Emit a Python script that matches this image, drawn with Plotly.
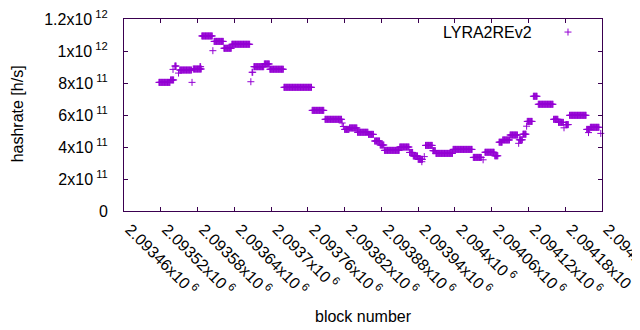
import plotly.graph_objects as go

# Runs of constant hashrate: first block, last block (inclusive), hashrate in h/s
run_start = [2093517, 2093536, 2093540, 2093543, 2093549, 2093551, 2093571, 2093573, 2093584, 2093587,
             2093605, 2093607, 2093623, 2093636, 2093667, 2093669, 2093672, 2093689, 2093698, 2093721,
             2093767, 2093788, 2093816, 2093818, 2093820, 2093828, 2093841, 2093859, 2093869, 2093878,
             2093885, 2093910, 2093926, 2093932, 2093940, 2093946, 2093950, 2093952, 2093964, 2093969,
             2093997, 2094030, 2094046, 2094049, 2094065, 2094072, 2094078, 2094090, 2094104, 2094105,
             2094111, 2094117, 2094118, 2094128, 2094136, 2094161, 2094169, 2094178, 2094181, 2094187,
             2094215, 2094218, 2094221, 2094238]
run_end = [2093535, 2093541, 2093540, 2093545, 2093549, 2093570, 2093571, 2093586, 2093585, 2093604,
           2093605, 2093622, 2093635, 2093665, 2093667, 2093670, 2093688, 2093697, 2093720, 2093766,
           2093786, 2093815, 2093816, 2093818, 2093827, 2093840, 2093858, 2093867, 2093877, 2093884,
           2093909, 2093925, 2093931, 2093939, 2093947, 2093946, 2093950, 2093963, 2093968, 2093996,
           2094028, 2094043, 2094046, 2094064, 2094070, 2094077, 2094089, 2094102, 2094104, 2094110,
           2094116, 2094117, 2094126, 2094134, 2094160, 2094168, 2094177, 2094178, 2094185, 2094214,
           2094220, 2094218, 2094235, 2094238]
run_hashrate = [0.804e12, 0.819e12, 0.885e12, 0.906e12, 0.862e12, 0.881e12, 0.804e12, 0.8875e12, 0.902e12, 1.094e12,
                1.002e12, 1.060e12, 1.017e12, 1.042e12, 0.808e12, 0.867e12, 0.902e12, 0.919e12, 0.886e12, 0.773e12,
                0.629e12, 0.573e12, 0.550e12, 0.528e12, 0.510e12, 0.519e12, 0.492e12, 0.479e12, 0.4375e12, 0.4125e12,
                0.379e12, 0.400e12, 0.366e12, 0.344e12, 0.323e12, 0.308e12, 0.340e12, 0.410e12, 0.377e12, 0.360e12,
                0.385e12, 0.335e12, 0.320e12, 0.367e12, 0.345e12, 0.430e12, 0.444e12, 0.475e12, 0.423e12, 0.445e12,
                0.480e12, 0.530e12, 0.560e12, 0.717e12, 0.667e12, 0.573e12, 0.554e12, 0.520e12, 0.540e12, 0.598e12,
                0.510e12, 0.490e12, 0.523e12, 0.485e12]

x_range = [2093460, 2094240]
y_range = [0, 1.2e12]
x_tick_vals = [2093460, 2093520, 2093580, 2093640, 2093700, 2093760, 2093820,
               2093880, 2093940, 2094000, 2094060, 2094120, 2094180, 2094240]
x_tick_text = ["2.09346x10<sup> 6</sup>", "2.09352x10<sup> 6</sup>", "2.09358x10<sup> 6</sup>",
               "2.09364x10<sup> 6</sup>", "2.0937x10<sup> 6</sup>", "2.09376x10<sup> 6</sup>",
               "2.09382x10<sup> 6</sup>", "2.09388x10<sup> 6</sup>", "2.09394x10<sup> 6</sup>",
               "2.094x10<sup> 6</sup>", "2.09406x10<sup> 6</sup>", "2.09412x10<sup> 6</sup>",
               "2.09418x10<sup> 6</sup>", "2.09424x10<sup> 6</sup>"]
y_tick_vals = [0, 2e11, 4e11, 6e11, 8e11, 1e12, 1.2e12]
y_tick_text = ["0", "2x10<sup> 11</sup>", "4x10<sup> 11</sup>", "6x10<sup> 11</sup>",
               "8x10<sup> 11</sup>", "1x10<sup> 12</sup>", "1.2x10<sup> 12</sup>"]

series_name = "LYRA2REv2"
x_title = "block number"
y_title = "hashrate [h/s]"
color = "#9400D3"
frame_color = "#3a0050"
font_family = "Liberation Sans, Arial, sans-serif"

xs, ys = [], []
for s, e, v in zip(run_start, run_end, run_hashrate):
    for b in range(s, e + 1):
        xs.append(b)
        ys.append(v)

fig = go.Figure()
fig.add_trace(go.Scatter(
    x=xs, y=ys, mode="markers", name=" ",
    marker=dict(symbol="cross-thin", size=5, color=color,
                line=dict(color=color, width=1)),
    cliponaxis=False, showlegend=True,
))

txt = dict(size=16, color="black", family=font_family)
fig.add_annotation(text=series_name, xref="paper", yref="paper",
                   x=0.858, y=0.93, xanchor="right", yanchor="middle",
                   showarrow=False, font=txt)
fig.add_annotation(text=x_title, xref="paper", yref="paper",
                   x=0.502, y=-0.547, xanchor="center", yanchor="middle",
                   showarrow=False, font=txt)
fig.add_annotation(text=y_title, xref="paper", yref="paper", textangle=-90,
                   x=-0.222, y=0.508, xanchor="center", yanchor="middle",
                   showarrow=False, font=txt)

axis_common = dict(showline=True, linewidth=1, mirror="ticks",
                   linecolor=frame_color, tickcolor=frame_color,
                   ticks="inside", ticklen=4, tickwidth=1,
                   showgrid=False, zeroline=False, ticklabeloverflow="allow",
                   tickfont=dict(size=16, color="black", family=font_family))

# page body has an 8px margin: figure is sized/offset to land the plot frame where the reference has it
fig.update_layout(
    width=632, height=314,
    margin=dict(l=116, r=38, t=11, b=111, autoexpand=False),
    paper_bgcolor="white", plot_bgcolor="white",
    font=dict(family=font_family, size=16, color="black"),
    xaxis=dict(range=x_range, tickmode="array", tickvals=x_tick_vals,
               ticktext=x_tick_text, tickangle=45, automargin=False,
               ticklabelshift=6, ticklabelstandoff=2, **axis_common),
    yaxis=dict(range=y_range, tickmode="array", tickvals=y_tick_vals,
               ticktext=y_tick_text, automargin=False,
               ticklabelstandoff=12, **axis_common),
    legend=dict(x=0.887, y=1.02, xanchor="left", yanchor="top",
                bgcolor="rgba(0,0,0,0)", font=dict(size=16)),
)

fig.write_html("out.html")
